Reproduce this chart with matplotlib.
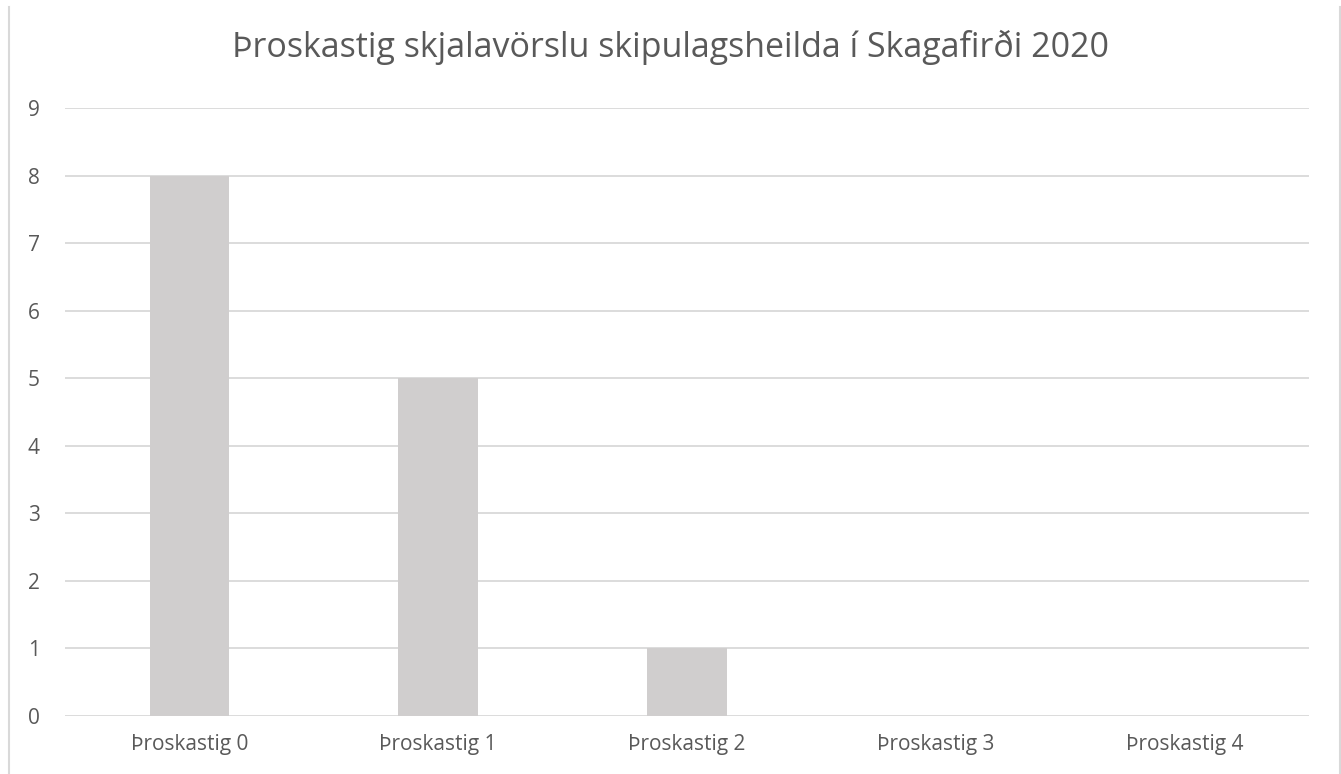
import matplotlib
matplotlib.use("Agg")
import matplotlib.pyplot as plt
from matplotlib.lines import Line2D

# gögn
flokkar = ["Þroskastig 0", "Þroskastig 1", "Þroskastig 2", "Þroskastig 3", "Þroskastig 4"]
fjoldi = [8, 5, 1, 0, 0]
titill = "Þroskastig skjalavörslu skipulagsheilda í Skagafirði 2020"

plt.rcParams['font.family'] = ['Open Sans', 'DejaVu Sans']

fig = plt.figure(figsize=(13.41, 7.74), dpi=100)
ax = fig.add_axes([65 / 1341, 1 - 716 / 774, (1309 - 65) / 1341, (716 - 108) / 774])

x = range(len(flokkar))
ax.bar(x, fjoldi, width=0.32, color='#D0CECE', zorder=2)

ax.set_xlim(-0.5, len(flokkar) - 0.5)
ax.set_ylim(0, 9)
ax.set_yticks(range(0, 10))
ax.set_xticks(list(x))
ax.set_xticklabels(flokkar)

ax.grid(axis='y', color='#D9D9D9', linewidth=1.3, zorder=0)
for s in ax.spines.values():
    s.set_visible(False)
ax.tick_params(length=0, labelsize=15, colors='#595959')
ax.tick_params(axis='y', pad=18)
ax.tick_params(axis='x', pad=13)

fig.text(0.5, 1 - 47 / 774, titill, ha='center', va='center', fontsize=24.5, color='#595959')

# rammi til hliðar
fig.add_artist(Line2D([9 / 1341, 9 / 1341], [0, 1 - 7 / 774], transform=fig.transFigure, color='#D9D9D9', linewidth=1.5))
fig.add_artist(Line2D([1339.5 / 1341, 1339.5 / 1341], [0, 1 - 7 / 774], transform=fig.transFigure, color='#D9D9D9', linewidth=1.5))

fig.savefig("out.png", dpi=100)
